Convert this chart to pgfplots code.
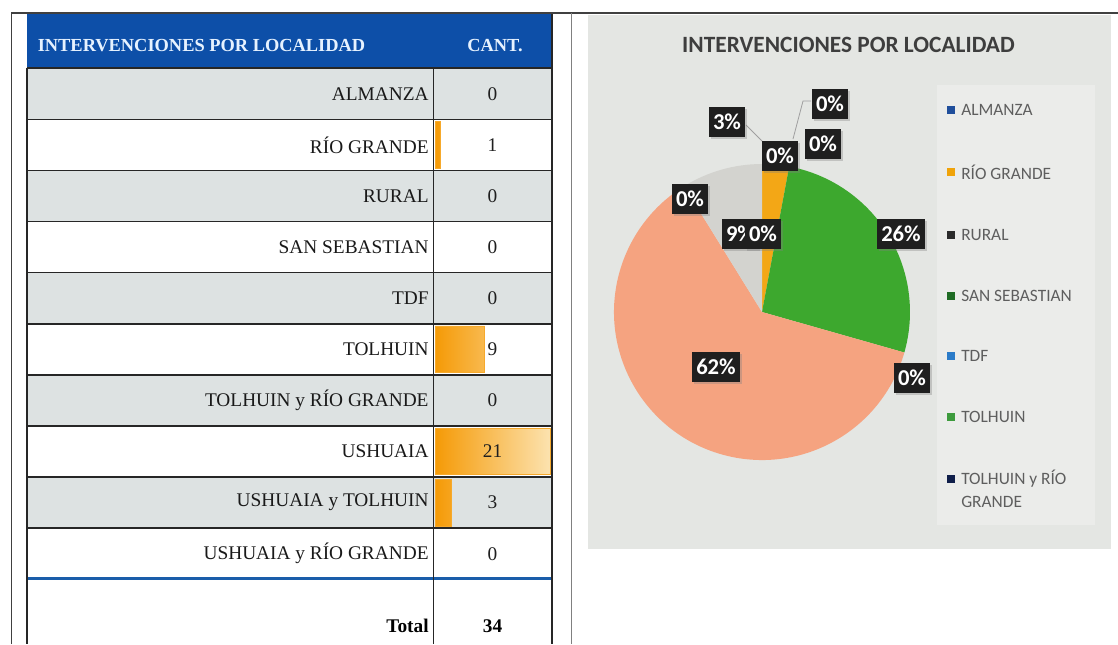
\documentclass[border=0pt]{standalone}
\usepackage{pgfplots}
\pgfplotsset{compat=1.18}
\usepackage{pgfplotstable}
\usetikzlibrary{shadows}
\usepackage{fontspec}
\setmainfont{Liberation Serif}
\newfontfamily\calfont{Carlito}
\definecolor{hdrblue}{HTML}{0D4FA8}
\definecolor{hdrtext}{HTML}{E6F2FF}
\definecolor{rowgray}{HTML}{DDE2E2}
\definecolor{panel}{HTML}{E4E6E3}
\definecolor{legbg}{HTML}{EBECEA}
\definecolor{cOrange}{HTML}{F3A716}
\definecolor{cGreen}{HTML}{3DA82E}
\definecolor{cSalmon}{HTML}{F5A380}
\definecolor{cGray}{HTML}{D3D3CF}
\definecolor{barL}{HTML}{F59A06}
\definecolor{barR}{HTML}{FCE3B0}
\definecolor{lineblue}{HTML}{1A5DAA}
\definecolor{lAlm}{HTML}{1F4E9B}
\definecolor{lRG}{HTML}{F0A30A}
\definecolor{lRur}{HTML}{2B2B2B}
\definecolor{lSS}{HTML}{1E6B24}
\definecolor{lTDF}{HTML}{2B7BC8}
\definecolor{lTol}{HTML}{3D9B3D}
\definecolor{lTRG}{HTML}{0F1E4A}
\definecolor{legtext}{HTML}{5E5E5E}
\definecolor{titletext}{HTML}{3E3E3E}

\pgfplotstableread{
row count
0 0
1 1
2 0
3 0
4 0
5 9
6 0
7 21
8 3
9 0
}\cant

\begin{document}
\begin{tikzpicture}[x=0.75pt,y=-0.75pt]
\fill[white] (0,0) rectangle (1118,644);
\path[use as bounding box] (0,0) rectangle (1118,644);
% outer frame
\draw[black!75, line width=0.9pt] (11.7,644) -- (11.7,13) -- (1118,13);
\draw[black!50, line width=0.9pt] (571.7,13) -- (571.7,644);
% table background
\fill[hdrblue] (26.7,14) rectangle (551.7,67.5);
\foreach \i in {0,2,4,6,8} \fill[rowgray] (26.7,{68.2+51.1*\i}) rectangle (551.7,{68.2+51.1*(\i+1)});

\begin{axis}[
  at={(326.25pt,-51.15pt)}, anchor=north west, scale only axis,
  width=86.8pt, height=383.25pt,
  xmin=0, xmax=21, ymin=-0.5, ymax=9.5, y dir=reverse,
  axis line style={draw=none}, xtick=\empty, ytick={0,...,9},
  yticklabels={ALMANZA, RÍO GRANDE, RURAL, SAN SEBASTIAN, TDF, TOLHUIN, TOLHUIN y RÍO GRANDE, USHUAIA, USHUAIA y TOLHUIN, USHUAIA y RÍO GRANDE},
  major tick length=0pt,
  yticklabel style={font=\fontsize{14.5pt}{17pt}\selectfont, text=black!90, inner sep=0pt, anchor=east, xshift=-4.6pt},
  clip=false]
\addplot[xbar, bar width=35pt, draw=barL!85, line width=0.5pt, left color=barL, right color=barR,
  restrict x to domain=0.5:100] table[x=count, y=row] {\cant};
\end{axis}

% numbers in CANT column
\foreach \i in {0,...,9}{
  \pgfplotstablegetelem{\i}{count}\of\cant
  \node[font=\fontsize{14.5pt}{17pt}\selectfont, text=black!88] at (492.5,{93.8+51.1*\i}) {\pgfplotsretval};
}
% grid lines
\foreach \i in {0,...,9} \draw[black!85, line width=1.2pt] (26.7,{68.2+51.1*\i}) -- (551.7,{68.2+51.1*\i});
\draw[lineblue, line width=2pt] (26.7,578.8) -- (551.7,578.8);
\draw[black!85, line width=1.2pt] (26.7,68) -- (26.7,644);
\draw[black!85, line width=1.2pt] (433.3,68) -- (433.3,644);
\draw[black!85, line width=1.2pt] (551.7,14) -- (551.7,644);
% header text
\node[anchor=west, font=\bfseries\fontsize{13.8pt}{16pt}\selectfont, text=hdrtext, inner sep=0pt] at (37.5,46) {INTERVENCIONES POR LOCALIDAD};
\node[font=\bfseries\fontsize{13.8pt}{16pt}\selectfont, text=hdrtext, inner sep=0pt] at (495,46) {CANT.};
% total row
\node[anchor=east, font=\bfseries\fontsize{14.5pt}{17pt}\selectfont, inner sep=0pt] at (428.9,625.7) {Total};
\node[font=\bfseries\fontsize{14.5pt}{17pt}\selectfont] at (492.5,625.7) {34};

% ---------------- pie chart ----------------
\fill[panel] (587.5,15) rectangle (1111,549);
\fill[legbg] (937,85) rectangle (1095,525);
\node[font=\calfont\bfseries\fontsize{17.5pt}{20pt}\selectfont, text=titletext] at (848.5,45) {INTERVENCIONES POR LOCALIDAD};

\pgfplotstablegetelem{1}{count}\of\cant \let\nRG\pgfplotsretval
\pgfplotstablegetelem{5}{count}\of\cant \let\nTOL\pgfplotsretval
\pgfplotstablegetelem{7}{count}\of\cant \let\nUSH\pgfplotsretval
\pgfplotstablegetelem{8}{count}\of\cant \let\nUT\pgfplotsretval
\pgfmathsetmacro\tot{\nRG+\nTOL+\nUSH+\nUT}
\pgfmathsetmacro\aA{90-360*\nRG/\tot}
\pgfmathsetmacro\aB{\aA-360*\nTOL/\tot}
\pgfmathsetmacro\aC{\aB-360*\nUSH/\tot}
\pgfmathsetmacro\aD{\aC-360*\nUT/\tot}

\begin{axis}[
  at={(571.5pt,-234pt)}, anchor=center, scale only axis,
  width=222pt, height=222pt,
  xmin=-1, xmax=1, ymin=-1, ymax=1, hide axis, clip=false]
\fill[cOrange] (axis cs:0,0) -- (axis cs:{cos(90)},{sin(90)}) arc[start angle=90, end angle=\aA, radius=111pt] -- cycle;
\fill[cGreen] (axis cs:0,0) -- (axis cs:{cos(\aA)},{sin(\aA)}) arc[start angle=\aA, end angle=\aB, radius=111pt] -- cycle;
\fill[cSalmon] (axis cs:0,0) -- (axis cs:{cos(\aB)},{sin(\aB)}) arc[start angle=\aB, end angle=\aC, radius=111pt] -- cycle;
\fill[cGray] (axis cs:0,0) -- (axis cs:{cos(\aC)},{sin(\aC)}) arc[start angle=\aC, end angle=\aD, radius=111pt] -- cycle;
\end{axis}

% leader lines
\draw[gray!75, line width=0.6pt] (746,125) -- (762,141);
\draw[gray!75, line width=0.6pt] (811,101) -- (803,101) -- (793,139);
% data labels
\tikzset{pl/.style={fill=black!88, text=white, font=\calfont\bfseries\fontsize{17pt}{19pt}\selectfont, inner xsep=3.3pt, inner ysep=0pt, minimum height=23pt,
  drop shadow={shadow xshift=1.5pt, shadow yshift=-1.5pt, opacity=0.35}}}
\node[pl] at (727,122) {3\%};
\node[pl] at (830,104) {0\%};
\node[pl] at (823,144) {0\%};
\node[pl] at (780,156) {0\%};
\node[pl] at (690,199) {0\%};
\node[pl] at (740,234) {9\%};
\node[pl] at (763,234) {0\%};
\node[pl] at (901,234) {26\%};
\node[pl] at (716,367) {62\%};
\node[pl] at (912,378) {0\%};

% legend
\foreach \y/\c/\t in {110/lAlm/ALMANZA, 172/lRG/RÍO GRANDE, 235/lRur/RURAL, 296/lSS/SAN SEBASTIAN, 356/lTDF/TDF, 417/lTol/TOLHUIN, 479/lTRG/TOLHUIN y RÍO}{
  \fill[\c] (946.5,\y-4) rectangle (954.5,\y+4);
  \node[anchor=west, inner sep=0pt, font=\calfont\fontsize{13pt}{15pt}\selectfont, text=legtext] at (961,\y) {\t};
}
\node[anchor=west, inner sep=0pt, font=\calfont\fontsize{13pt}{15pt}\selectfont, text=legtext] at (961,502) {GRANDE};
\end{tikzpicture}
\end{document}
